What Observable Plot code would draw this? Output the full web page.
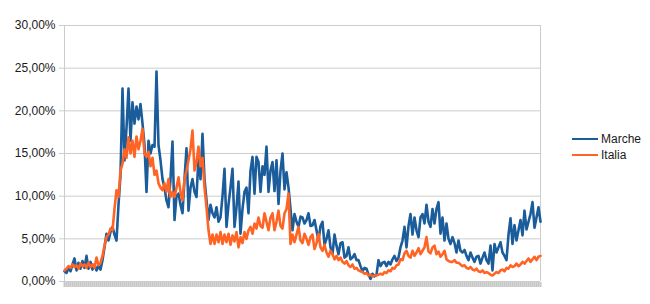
<!DOCTYPE html>
<html><head><meta charset="utf-8">
<script src="https://cdn.jsdelivr.net/npm/d3@7"></script>
<script src="https://cdn.jsdelivr.net/npm/@observablehq/plot@0.6"></script>
<style>
body{margin:0;background:#fff;font-family:"Liberation Sans",Arial,sans-serif}
#wrap{position:relative;width:650px;height:304px}
#legend{position:absolute;left:572px;top:131px;font-size:12px;color:#1a1a1a}
.item{display:flex;align-items:center;height:16px}
.sw{width:26px;height:2px;margin-right:3px}
</style></head><body><div id="wrap"><div id="legend"></div></div>
<script>
const seriesNames = ["Marche", "Italia"];
const seriesColors = ["#1b5c9b", "#ff6424"];
const yTicks = [0, 5, 10, 15, 20, 25, 30];

// Marche positivity rate (%), one value per step
const marche = [
  1.2,1.0,1.6,1.2,2.0,2.7,1.3,2.2,1.5,2.4,1.6,3.0,1.5,2.3,1.4,2.0,1.3,1.8,1.4,
  2.5,4.0,5.6,4.8,5.8,6.4,5.5,4.8,9.0,12.5,
  22.6,14.2,18.0,22.6,16.5,21.0,18.5,20.5,19.0,20.8,18.5,16.0,10.5,16.5,15.0,16.0,15.8,24.6,16.0,14.2,
  12.0,11.0,9.5,8.7,12.0,16.4,7.2,10.0,10.3,9.0,8.0,12.0,15.6,8.3,11.0,12.0,10.5,9.9,14.6,12.0,17.3,12.0,9.5,7.2,9.0,
  8.0,7.5,8.7,7.0,7.5,10.0,13.2,6.4,9.0,11.0,13.2,6.4,8.7,11.7,5.6,8.5,10.5,11.0,8.0,13.0,14.6,10.3,14.6,14.0,
  10.5,13.5,12.5,15.8,10.5,13.0,14.0,10.6,14.2,9.1,13.0,15.0,10.8,12.8,11.0,8.5,6.0,7.9,7.0,6.4,7.6,
  7.5,6.8,7.2,8.0,6.5,6.6,7.2,6.0,4.8,6.5,7.0,4.3,5.0,6.0,4.0,3.2,5.5,4.2,3.2,4.5,4.6,2.8,3.0,4.0,2.6,2.8,3.2,2.5,2.5,
  1.8,1.2,1.6,1.5,0.8,0.3,0.9,0.6,0.8,2.5,1.8,2.2,2.3,1.8,2.3,2.0,2.6,3.0,2.4,2.8,4.0,4.8,6.4,4.0,6.5,7.9,
  5.5,7.5,6.0,5.2,7.5,7.9,6.8,9.0,7.0,6.4,8.5,6.8,8.5,9.3,5.6,7.5,4.8,6.8,5.0,4.4,5.2,4.5,3.4,
  4.8,3.6,3.4,3.7,3.0,2.5,3.4,2.8,2.3,2.9,3.0,2.1,2.8,3.4,2.5,2.1,4.2,1.3,4.4,3.4,4.0,4.6,3.4,3.0,2.5,5.5,7.4,4.4,6.6,4.8,6.0,7.2,5.4,8.3,6.1,7.0,7.9,9.3,6.3,7.5,8.7,7.0
];

// Italia positivity rate (%)
const italia = [
  1.3,1.5,1.8,1.6,2.0,1.7,1.9,1.5,2.1,1.8,2.0,1.6,2.2,1.7,2.0,1.6,2.8,1.9,2.2,
  3.0,4.2,5.2,5.5,6.2,6.0,8.5,10.7,9.9,13.0,
  13.8,15.5,14.5,16.9,15.0,16.5,14.6,17.0,15.5,16.5,17.9,15.0,14.6,15.2,13.5,14.5,12.5,13.0,11.5,11.0,
  10.7,11.5,10.5,12.0,9.9,10.5,9.9,11.0,12.2,10.5,9.5,12.0,13.0,14.2,15.5,17.7,13.0,14.0,15.8,13.5,14.5,11.0,8.7,6.0,4.4,
  5.5,4.4,5.5,4.6,5.8,4.4,5.5,4.6,5.6,4.3,5.4,4.7,5.8,4.0,5.2,4.5,5.8,5.0,6.0,6.4,5.6,6.8,6.2,7.5,
  6.5,6.3,8.0,7.0,6.0,7.5,8.0,6.0,7.0,8.3,6.5,6.2,8.0,8.5,10.3,4.4,5.5,4.6,5.5,6.4,4.8,
  4.5,5.6,5.0,4.3,5.2,5.5,3.8,4.5,5.6,4.0,3.6,4.3,3.4,2.9,3.6,3.2,2.6,3.0,2.5,2.8,2.3,2.1,2.4,1.9,1.7,2.0,1.5,1.6,1.3,
  1.2,1.1,0.9,1.0,0.7,0.8,0.6,0.7,0.7,0.8,0.9,0.8,1.1,1.0,1.3,1.2,1.6,1.5,1.9,2.0,2.6,2.5,3.3,3.6,3.0,2.8,
  3.6,3.0,3.4,3.9,3.2,3.6,4.0,5.2,3.5,3.3,4.0,4.2,3.2,3.5,2.9,3.2,3.6,2.6,2.4,2.3,2.3,2.5,2.2,
  2.2,2.0,1.8,1.9,1.6,1.5,1.7,1.4,1.3,1.5,1.2,1.1,1.3,1.0,1.1,1.0,0.8,0.7,0.9,1.1,1.0,1.3,1.4,1.2,1.6,1.5,1.9,1.7,1.8,2.1,1.8,2.0,2.3,2.1,2.4,2.7,2.3,2.6,2.9,2.5,2.9,3.0
];

const n = marche.length;
const fmt = d => d.toFixed(2).replace(".", ",") + "%";

const chart = Plot.plot({
  width: 650,
  height: 304,
  marginLeft: 64,
  marginRight: 110,
  marginTop: 25,
  marginBottom: 23,
  x: {domain: [0, n - 1], axis: null},
  y: {domain: [0, 30], axis: null},
  style: {fontFamily: "Liberation Sans, Arial, sans-serif", fontSize: "12px", color: "#1a1a1a", background: "#fff"},
  marks: [
    Plot.gridY(yTicks, {stroke: "#cccccc", strokeOpacity: 1}),
    Plot.axisY(yTicks, {tickSize: 5, tickPadding: 4, stroke: "#cccccc", tickFormat: fmt, fontSize: 12, fill: "#1a1a1a"}),
    Plot.ruleX([0, n - 1], {stroke: "#cccccc"}),
    // dense category ticks under the plot (hatched band)
    Plot.ruleX(d3.range(n), {x: d => d, y1: 0, y2: 0, insetTop: 1, insetBottom: -6, stroke: "#c6c6c6", strokeOpacity: 1, strokeWidth: 2}),
    Plot.lineY(marche, {x: (d, i) => i, y: d => d, stroke: seriesColors[0], strokeWidth: 2.6}),
    Plot.lineY(italia, {x: (d, i) => i, y: d => d, stroke: seriesColors[1], strokeWidth: 2.6})
  ]
});
document.getElementById("wrap").prepend(chart);

const legend = document.getElementById("legend");
seriesNames.forEach((name, k) => {
  const item = document.createElement("div");
  item.className = "item";
  const sw = document.createElement("span");
  sw.className = "sw";
  sw.style.background = seriesColors[k];
  const t = document.createElement("span");
  t.textContent = name;
  item.append(sw, t);
  legend.append(item);
});
</script>
</body></html>
